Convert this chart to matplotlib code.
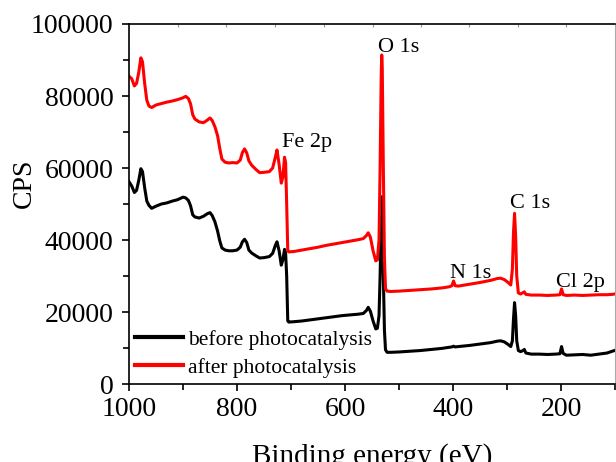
import numpy as np
import matplotlib
matplotlib.use('Agg')
import matplotlib.pyplot as plt

plt.rcParams['font.family'] = ['Liberation Serif', 'DejaVu Serif']
plt.rcParams['mathtext.fontset'] = 'stix'

# binding energy (eV), shared by both spectra
energy = [1000, 995, 990, 986, 982, 978, 975, 971, 967, 963, 958, 950, 940, 930,
          920, 910, 900, 895, 890, 886, 882, 878, 870, 862, 855, 850, 846, 841,
          836, 832, 828, 822, 815, 808, 800, 794, 790, 786, 782, 778, 773, 765,
          758, 750, 740, 734, 729, 726, 722, 718, 715, 712, 710, 708, 706, 704,
          695, 680, 665, 650, 635, 620, 605, 590, 575, 566, 560, 557, 553, 548,
          543, 540, 537, 535, 533, 532, 531, 529, 527, 525, 522, 515, 500, 480,
          460, 440, 420, 407, 402, 399, 396, 390, 370, 350, 330, 318, 312, 305,
          298, 293, 290, 288, 286, 284, 282, 279, 275, 270, 268, 265, 255, 240,
          225, 210, 202, 199, 196, 190, 175, 160, 145, 130, 115, 105, 101]

before = [56200, 55000, 53200, 53800, 56500, 59800, 59000, 54500, 50800, 49600,
          48800, 49400, 50000, 50300, 50800, 51200, 51900, 51700, 51000, 49500,
          47000, 46400, 46100, 46600, 47300, 47600, 46800, 45100, 42500, 39800,
          37800, 37200, 37000, 37000, 37200, 38000, 39500, 40200, 39300, 37200,
          36400, 35600, 35000, 35100, 35400, 36300, 38500, 39500, 37000, 33000,
          34500, 37400, 36500, 30000, 17500, 17200, 17300, 17500, 17800, 18100,
          18400, 18700, 19000, 19200, 19400, 19600, 20500, 21300, 20200, 17500,
          15300, 15500, 19000, 30000, 45000, 52000, 48000, 30000, 15000, 9500,
          8800, 8800, 8900, 9100, 9300, 9600, 9900, 10200, 10300, 10500, 10300,
          10400, 10700, 11100, 11500, 11900, 12000, 11700, 11000, 10400, 12000,
          18000, 22600, 19000, 12000, 9300, 9000, 9300, 9600, 8600, 8300, 8300,
          8200, 8300, 8400, 10400, 8500, 8000, 8100, 8200, 8000, 8300, 8600,
          9100, 9300]

after = [85500, 84800, 82800, 83500, 86500, 90600, 89500, 83500, 78800, 77200,
         76800, 77500, 77900, 78300, 78600, 79000, 79500, 79900, 79300, 77800,
         74800, 73600, 72800, 72600, 73300, 73900, 73200, 71500, 69000, 65500,
         62500, 61600, 61400, 61500, 61400, 62200, 64300, 65300, 64200, 62000,
         60800, 59600, 58700, 58800, 59000, 60000, 63000, 65000, 61000, 55800,
         57500, 63000, 61500, 50000, 37000, 36700, 36800, 37200, 37600, 38000,
         38500, 38900, 39300, 39700, 40100, 40400, 41300, 42000, 40800, 37000,
         34200, 34500, 40000, 60000, 85000, 91400, 88000, 60000, 35000, 26500,
         25800, 25700, 25800, 26000, 26200, 26400, 26700, 27000, 27300, 28600,
         27300, 27200, 27700, 28200, 28800, 29300, 29400, 29000, 28200, 27500,
         32000, 42000, 47400, 41000, 30000, 25300, 25000, 25400, 25600, 24900,
         24700, 24700, 24600, 24700, 24800, 26400, 24800, 24600, 24700, 24600,
         24700, 24800, 24800, 24900, 25000]

peak_labels = ['Fe 2p', 'O 1s', 'C 1s', 'N 1s', 'Cl 2p']
peak_x = [716, 538, 295, 405, 210]
peak_y = [65800, 92300, 48800, 29400, 27000]

fig = plt.figure(figsize=(6.16, 4.62), dpi=100)
ax = fig.add_axes([129 / 616, 78 / 462, 486 / 616, 360 / 462])

ax.plot(energy, before, color='black', lw=2.2, label='before photocatalysis')
ax.plot(energy, after, color='red', lw=2.2, label='after photocatalysis')

for lab, x, y in zip(peak_labels, peak_x, peak_y):
    ax.text(x, y, lab, fontsize=16, ha='left', va='baseline')

ax.set_xlim(1000, 100)
ax.set_ylim(0, 100000)
ax.set_xticks([1000, 800, 600, 400, 200])
ax.set_xticks(np.arange(100, 1001, 100), minor=True)
ax.set_yticks(np.arange(0, 100001, 20000))
ax.set_yticks(np.arange(0, 100001, 10000), minor=True)
ax.tick_params(axis='both', which='major', direction='out', length=5, width=1.2,
               labelsize=20, top=False, right=False)
ax.tick_params(axis='x', which='major', pad=4)
ax.tick_params(axis='y', which='major', pad=6)
ax.tick_params(axis='both', which='minor', direction='out', length=4, width=1.2,
               top=False, right=False)

for s in ['left', 'bottom', 'top']:
    ax.spines[s].set_linewidth(1.2)
ax.spines['right'].set_color('#aaaaaa')

# faint ticks on the top frame
top = ax.secondary_xaxis('top')
top.set_xticks([909, 819.5, 729.5, 639, 549, 459.5, 370, 280, 190])
top.tick_params(direction='in', length=2, width=0.8, color='#999999', labeltop=False)
top.spines['top'].set_visible(False)

ax.set_ylabel('CPS', fontsize=20)
ax.yaxis.set_label_coords(-0.19, 0.558)
ax.set_xlabel('Binding energy (eV)', fontsize=21)
ax.xaxis.set_label_coords(0.5, -0.165)

leg = ax.legend(loc='lower left', bbox_to_anchor=(0, 0), frameon=False, fontsize=15.5,
                handlelength=2.23, handletextpad=0.23, labelspacing=0.38,
                borderaxespad=0, borderpad=0.28)
for h in leg.get_lines():
    h.set_linewidth(3)

fig.savefig('out.png', dpi=100)
